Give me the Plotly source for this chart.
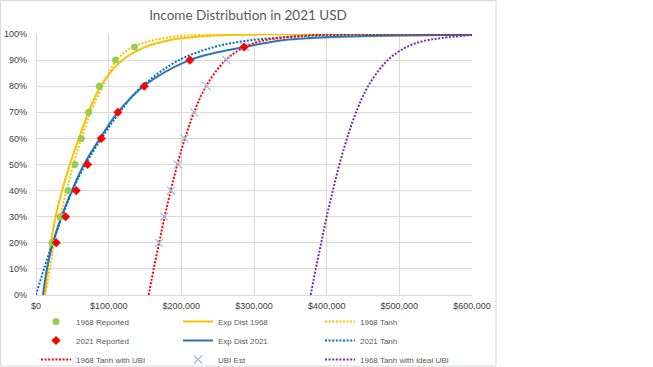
import plotly.graph_objects as go

# ---- reported points (income in USD, cumulative share) ----
pct_levels = [0.20, 0.30, 0.40, 0.50, 0.60, 0.70, 0.80, 0.90, 0.95]
reported_1968 = [22000, 33400, 44000, 53600, 62300, 72400, 87100, 109500, 135600]
reported_2021 = [27900, 40700, 55400, 71000, 89800, 112800, 149000, 211800, 286500]
ubi_est = [169200, 176500, 185700, 195300, 204400, 217700, 234700, 262200, 287900]

# ---- curves ----
exp1968_x = [11900, 16000, 20600, 27000, 36000, 46500, 59000, 72000, 89000, 119000, 150000, 182000, 224000, 280000, 340000, 600000]
exp1968_y = [0.0, 0.10, 0.20, 0.30, 0.40, 0.50, 0.60, 0.70, 0.80, 0.90, 0.95, 0.975, 0.99, 0.997, 0.999, 1.0]

tanh1968_x = [12800, 19000, 25500, 33000, 42000, 51500, 62500, 75000, 91500, 111000, 133000, 160000, 190000, 230000, 300000, 600000]
tanh1968_y = [0.0, 0.10, 0.20, 0.30, 0.40, 0.50, 0.60, 0.70, 0.80, 0.90, 0.95, 0.975, 0.99, 0.997, 0.9995, 1.0]

exp2021_x = [9600, 15000, 23400, 35000, 49500, 66000, 88000, 112500, 148000, 211000, 250000, 286000, 336000, 363000, 420000, 478000, 600000]
exp2021_y = [0.0, 0.10, 0.20, 0.30, 0.40, 0.50, 0.60, 0.70, 0.80, 0.90, 0.93, 0.95, 0.975, 0.982, 0.989, 0.993, 0.997]

tanh2021_x = [0, 11000, 23000, 36000, 50000, 68000, 90000, 115000, 146000, 197000, 245000, 280000, 308000, 355000, 402000, 470000, 600000]
tanh2021_y = [0.0, 0.10, 0.20, 0.30, 0.40, 0.50, 0.60, 0.70, 0.80, 0.90, 0.95, 0.97, 0.98, 0.99, 0.995, 0.998, 1.0]

tanh_ubi_x = [155000, 162000, 169500, 177000, 185500, 194500, 205000, 217500, 234000, 261000, 287000, 310000, 336000, 377000, 430000, 600000]
tanh_ubi_y = [0.0, 0.10, 0.20, 0.30, 0.40, 0.50, 0.60, 0.70, 0.80, 0.90, 0.95, 0.973, 0.985, 0.995, 0.999, 1.0]

tanh_ideal_x = [378000, 385000, 392500, 400000, 408500, 417500, 428000, 440500, 457000, 484000, 510000, 533000, 559000, 600000]
tanh_ideal_y = [0.0, 0.10, 0.20, 0.30, 0.40, 0.50, 0.60, 0.70, 0.80, 0.90, 0.95, 0.973, 0.985, 0.996]

title_text = "Income Distribution in 2021 USD"

YELLOW = "#FFC000"
BLUE = "#2E75B6"
BLUE_DOT = "#0070C0"
RED = "#FF0000"
PURPLE = "#7030A0"
GREEN = "#92D050"
UBI_C = "#9FB8D8"
DOT = "2px,1.6px"

fig = go.Figure()

# lines first (drawn underneath), legendrank sets legend order
fig.add_trace(go.Scatter(x=exp1968_x, y=exp1968_y, mode="lines", name="Exp Dist 1968",
                         line=dict(color=YELLOW, width=2, shape="spline"), legendrank=2))
fig.add_trace(go.Scatter(x=tanh1968_x, y=tanh1968_y, mode="lines", name="1968 Tanh",
                         line=dict(color=YELLOW, width=2, dash=DOT, shape="spline"), legendrank=3))
fig.add_trace(go.Scatter(x=exp2021_x, y=exp2021_y, mode="lines", name="Exp Dist 2021",
                         line=dict(color=BLUE, width=2, shape="spline"), legendrank=5))
fig.add_trace(go.Scatter(x=tanh2021_x, y=tanh2021_y, mode="lines", name="2021 Tanh",
                         line=dict(color=BLUE_DOT, width=2, dash=DOT, shape="spline"), legendrank=6))
fig.add_trace(go.Scatter(x=tanh_ubi_x, y=tanh_ubi_y, mode="lines", name="1968 Tanh with UBI",
                         line=dict(color=RED, width=2, dash=DOT, shape="spline"), legendrank=7))
fig.add_trace(go.Scatter(x=tanh_ideal_x, y=tanh_ideal_y, mode="lines", name="1968 Tanh with Ideal UBI",
                         line=dict(color=PURPLE, width=2, dash=DOT, shape="spline"), legendrank=9))

# markers on top
fig.add_trace(go.Scatter(x=ubi_est, y=pct_levels, mode="markers", name="UBI Est",
                         marker=dict(symbol="x-thin-open", size=8, color=UBI_C,
                                     line=dict(color=UBI_C, width=1.2)), legendrank=8))
fig.add_trace(go.Scatter(x=reported_1968, y=pct_levels, mode="markers", name="1968 Reported",
                         marker=dict(symbol="circle", size=7, color=GREEN), legendrank=1))
fig.add_trace(go.Scatter(x=reported_2021, y=pct_levels, mode="markers", name="2021 Reported",
                         marker=dict(symbol="diamond", size=7, color=RED), legendrank=4))

L, R, T, B = 36, 181, 34, 72
W, H = 653, 367
pw, ph = W - L - R, H - T - B

fig.update_layout(
    width=W, height=H,
    margin=dict(l=L, r=R, t=T, b=B, autoexpand=False),
    paper_bgcolor="white", plot_bgcolor="white",
    font=dict(family="Liberation Sans, Arial, sans-serif", color="#404040"),
    title=dict(text=title_text, x=248 / W, xref="container", xanchor="center",
               y=1 - 15 / H, yref="container", yanchor="middle",
               font=dict(family="Lato, sans-serif", size=13.5, color="#595959")),
    showlegend=True,
    legend=dict(orientation="h", xref="container", yref="container",
                x=36 / W, xanchor="left", y=1 - 307 / H, yanchor="top",
                entrywidth=97, entrywidthmode="pixels",
                font=dict(family="Liberation Sans, Arial, sans-serif", size=8, color="#595959"),
                bgcolor="rgba(0,0,0,0)", traceorder="normal"),
    xaxis=dict(range=[0, 600000], dtick=100000, tickformat="$,.0f",
               showgrid=True, gridcolor="#D9D9D9", gridwidth=1,
               zeroline=True, zerolinecolor="#D9D9D9", zerolinewidth=1,
               showline=False, ticks="", ticklabelstandoff=4, automargin=False,
               tickfont=dict(size=9, color="#404040"), fixedrange=True),
    yaxis=dict(range=[0, 1], dtick=0.1, tickformat=".0%",
               showgrid=True, gridcolor="#D9D9D9", gridwidth=1,
               zeroline=True, zerolinecolor="#D9D9D9", zerolinewidth=1,
               showline=False, ticks="", ticklabelstandoff=8, automargin=False,
               tickfont=dict(size=9, color="#404040"), fixedrange=True),
    shapes=[dict(type="rect", xref="paper", yref="paper",
                 x0=(0.5 - L) / pw, x1=(496 - L) / pw,
                 y0=(295 - 366) / ph, y1=(295 - 0.5) / ph,
                 line=dict(color="#D9D9D9", width=1), fillcolor="rgba(0,0,0,0)", layer="below")],
)

fig.write_html("out.html", config={"displayModeBar": False},
               post_script="document.body.style.margin='0px';document.body.style.overflow='hidden';")
